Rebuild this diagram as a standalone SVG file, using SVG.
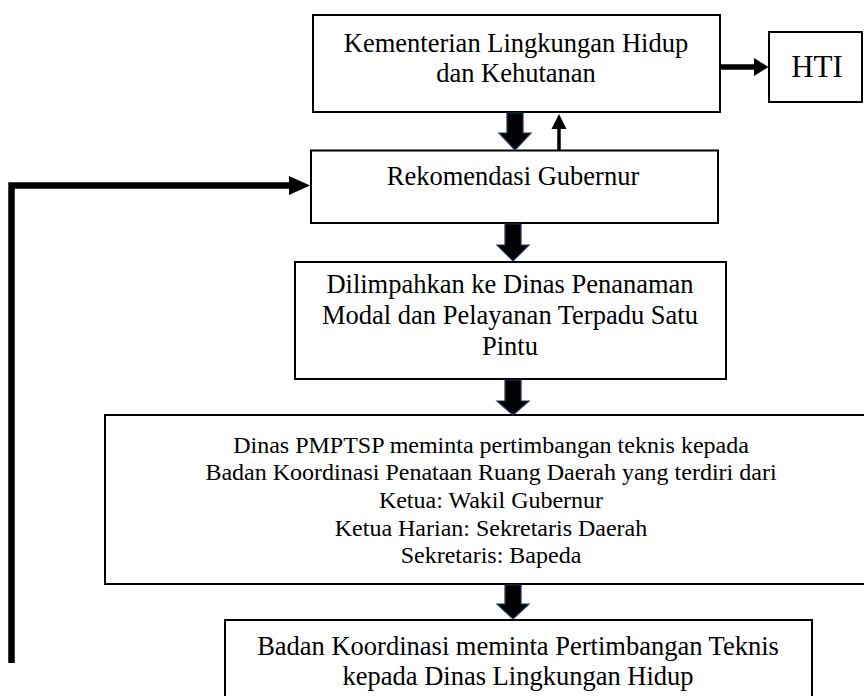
<svg xmlns="http://www.w3.org/2000/svg" width="864" height="696" viewBox="0 0 864 696">
<style>
.box{fill:#fff;stroke:#000;stroke-width:2}
text{fill:#000;text-anchor:middle}
.big{fill:#000;stroke:#1f3458;stroke-width:1.2}
</style>
<rect width="864" height="696" fill="#fff"/>
<g font-family="Liberation Serif, Times New Roman, Tinos, DejaVu Serif, serif">
<g id="n-klhk">
<rect class="box" x="313" y="15" width="407" height="97"/>
<text font-size="26.5" x="516" y="52">Kementerian Lingkungan Hidup</text>
<text font-size="26.5" x="516" y="82">dan Kehutanan</text>
</g>
<g id="n-hti">
<rect class="box" x="769" y="32" width="93" height="70"/>
<text font-size="31" x="817" y="77">HTI</text>
</g>
<g id="n-rek">
<rect class="box" x="311" y="150.5" width="407" height="72.5"/>
<text font-size="26.5" x="513" y="185">Rekomendasi Gubernur</text>
</g>
<g id="n-dil">
<rect class="box" x="295" y="262" width="431" height="117"/>
<text font-size="26.5" x="510" y="293">Dilimpahkan ke Dinas Penanaman</text>
<text font-size="26.5" x="510" y="324">Modal dan Pelayanan Terpadu Satu</text>
<text font-size="26.5" x="510" y="355">Pintu</text>
</g>
<g id="n-dinas">
<rect class="box" x="105" y="415" width="772" height="169" stroke-width="2.5"/>
<text font-size="24" x="491" y="453">Dinas PMPTSP meminta pertimbangan teknis kepada</text>
<text font-size="24" x="491" y="480">Badan Koordinasi Penataan Ruang Daerah yang terdiri dari</text>
<text font-size="24" x="491" y="508">Ketua: Wakil Gubernur</text>
<text font-size="24" x="491" y="536">Ketua Harian: Sekretaris Daerah</text>
<text font-size="24" x="491" y="563">Sekretaris: Bapeda</text>
</g>
<g id="n-badan">
<rect class="box" x="225" y="620" width="587" height="100"/>
<text font-size="26.5" x="518" y="655">Badan Koordinasi meminta Pertimbangan Teknis</text>
<text font-size="26.5" x="518" y="685">kepada Dinas Lingkungan Hidup</text>
</g>
</g>
<g id="connectors">
<polygon class="big" points="507,113 523,113 523,133 531,133 515,150 499,133 507,133"/>
<polygon class="big" points="505,224 521,224 521,245 529,245 513,261 497,245 505,245"/>
<polygon class="big" points="505,380 521,380 521,401 529,401 513,415 497,401 505,401"/>
<polygon class="big" points="505,585 521,585 521,604 529,604 513,619 497,604 505,604"/>
<line x1="559" y1="150" x2="559" y2="128" stroke="#000" stroke-width="3.5"/>
<polygon points="551.5,129 566.5,129 559,114" fill="#000"/>
<line x1="721" y1="67" x2="755" y2="67" stroke="#000" stroke-width="5.5"/>
<polygon points="754,58 768.5,67 754,76" fill="#000"/>
<polyline points="11.5,663 11.5,185.5 291,185.5" fill="none" stroke="#000" stroke-width="6.5"/>
<polygon points="289,176 310,185.5 289,195" fill="#000"/>
</g>
</svg>
